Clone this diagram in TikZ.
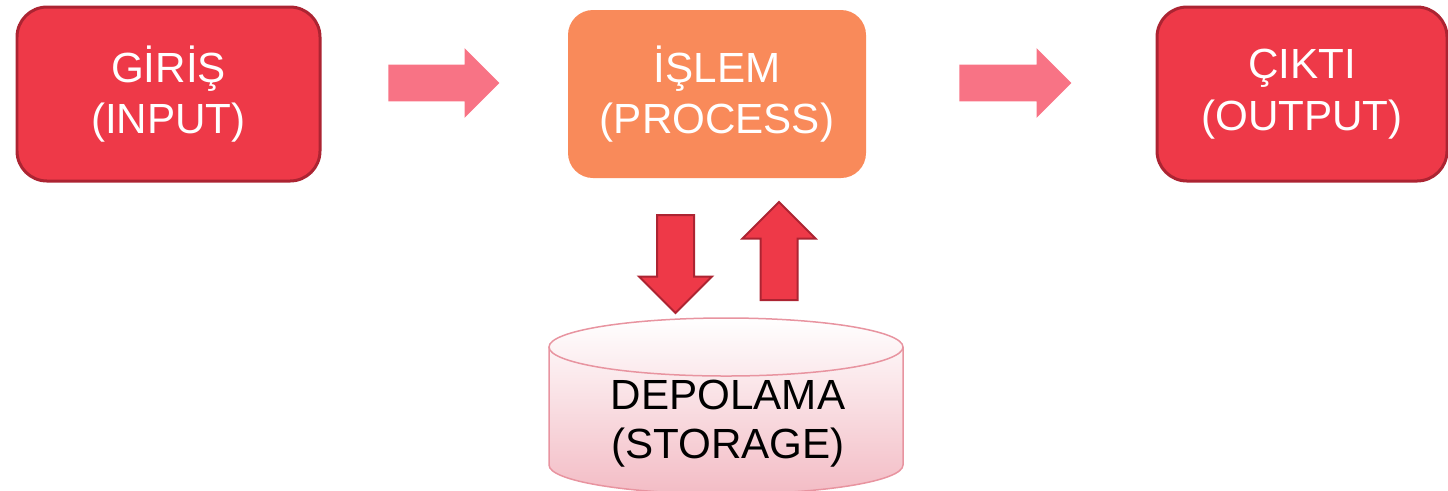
\documentclass[tikz,border=0pt]{standalone}
\usepackage{fontspec}
\setmainfont{Liberation Sans}
\usetikzlibrary{shapes.arrows}
\definecolor{boxred}{RGB}{238,57,72}
\definecolor{boxedge}{RGB}{172,36,50}
\definecolor{proc}{RGB}{249,138,90}
\definecolor{flowpink}{RGB}{248,115,133}
\definecolor{cylpink}{RGB}{243,188,197}
\definecolor{cyledge}{RGB}{232,148,160}
\begin{document}
\begin{tikzpicture}[
    bigtext/.style={font=\fontsize{24}{29.5}\selectfont,align=center},
    redbox/.style={bigtext,draw=boxedge,line width=0.06cm,fill=boxred,text=white,rounded corners=0.6cm},
    flow/.style={single arrow,fill=flowpink,draw=none,inner xsep=0pt,inner ysep=0.36cm,
      single arrow head extend=0.33cm,anchor=tail},
    updown/.style={single arrow,fill=boxred,draw=boxedge,line width=0.04cm,inner xsep=0pt,inner ysep=0.35cm,
      single arrow head extend=0.36cm,minimum height=1.96cm,anchor=tail}
  ]
  \clip (0,0) rectangle (28.96,-9.8);

  \node[redbox,minimum width=6.06cm,minimum height=3.48cm] (in) at (3.37,-1.88) {GİRİŞ\\(INPUT)};
  \node[bigtext,fill=proc,text=white,rounded corners=0.5cm,minimum width=5.96cm,minimum height=3.36cm] (proc) at (14.34,-1.88) {İŞLEM\\(PROCESS)};
  \node[redbox,minimum width=5.80cm,minimum height=3.48cm] (out) at (26.04,-1.88) {ÇIKTI\\(OUTPUT)};

  \node[flow,minimum height=2.22cm] (a1) at (7.76,-1.66) {};
  \node[flow,minimum height=2.24cm] (a2) at (19.18,-1.66) {};
  \node[updown,rotate=-90] (a3) at (13.51,-4.28) {};
  \node[updown,rotate=90] (a4) at (15.58,-6.02) {};

  % storage cylinder
  \shade[top color=white,bottom color=cylpink] (10.98,-6.94) -- (10.98,-9.30)
    arc[start angle=180,end angle=360,x radius=3.54,y radius=0.58] -- (18.06,-6.94)
    arc[start angle=0,end angle=180,x radius=3.54,y radius=0.58] -- cycle;
  \draw[cyledge,line width=0.03cm] (10.98,-6.94) -- (10.98,-9.30)
    arc[start angle=180,end angle=360,x radius=3.54,y radius=0.58] -- (18.06,-6.94);
  \draw[cyledge,line width=0.03cm] (14.52,-6.94) ellipse[x radius=3.54,y radius=0.58];
  \node[font=\fontsize{24}{28}\selectfont,align=center] (stor) at (14.56,-8.48) {DEPOLAMA\\(STORAGE)};
\end{tikzpicture}
\end{document}
